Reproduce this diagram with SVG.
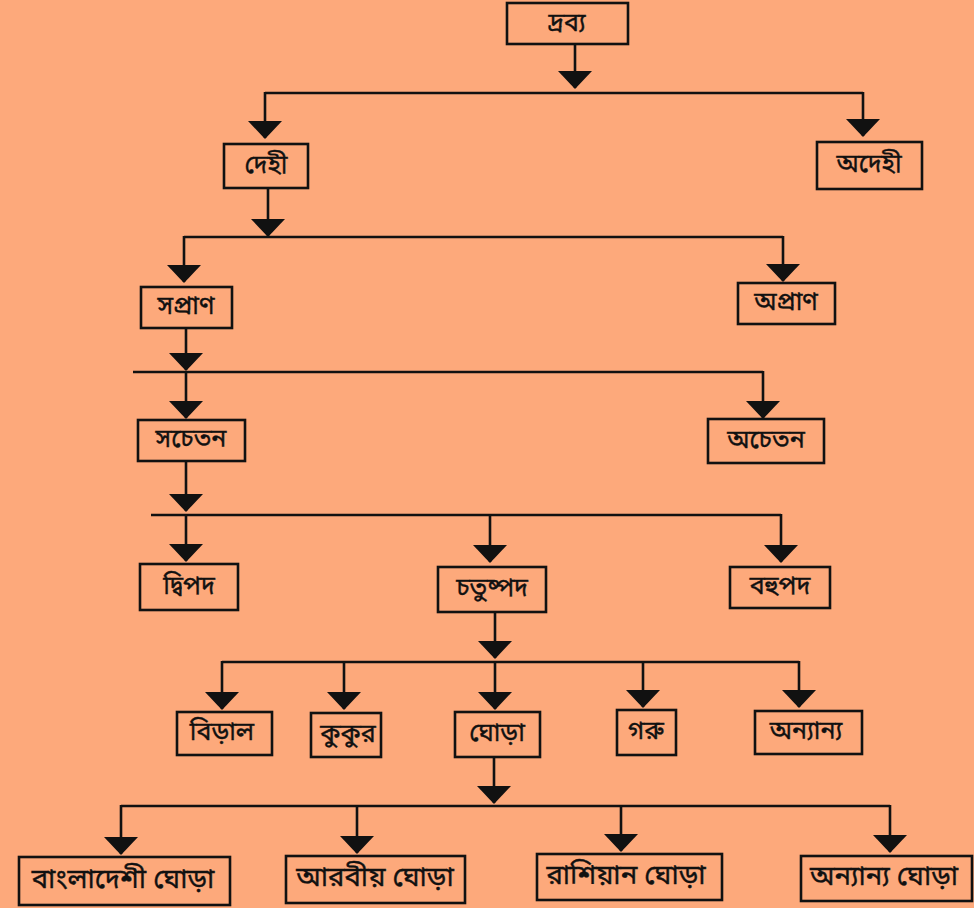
<svg xmlns="http://www.w3.org/2000/svg" width="974" height="908" viewBox="0 0 974 908">
<style>
.bx{fill:none;stroke:#111;stroke-width:2.6}
.ln{fill:none;stroke:#111;stroke-width:2.6}
.ar{fill:none;stroke:#111;stroke-width:2.6;marker-end:url(#ah)}
text{font-family:"Noto Sans Bengali","Lohit Bengali","Noto Sans","Noto Serif Bengali",sans-serif;font-size:25px;fill:#111;stroke:#111;stroke-width:0.4;text-anchor:middle;dominant-baseline:central}
text.big{font-size:27.5px}
</style>
<defs>
<marker id="ah" viewBox="0 0 18 34" refX="17" refY="17" markerWidth="18" markerHeight="34" markerUnits="userSpaceOnUse" orient="auto">
<path d="M0,0 L18,17 L0,34 z" fill="#111"/>
</marker>
</defs>
<rect width="974" height="908" fill="#FDA97B"/>
<g id="connectors">
<path class="ar" d="M575,44 V88"/>
<path class="ln" d="M265,93 H863"/>
<path class="ar" d="M265,92 V138"/>
<path class="ar" d="M863,92 V136"/>
<path class="ar" d="M268,188 V236"/>
<path class="ln" d="M184,237 H783"/>
<path class="ar" d="M184,236 V282"/>
<path class="ar" d="M783,236 V281"/>
<path class="ar" d="M186,328 V370"/>
<path class="ln" d="M133,372 H763"/>
<path class="ar" d="M186,371 V418"/>
<path class="ar" d="M763,371 V418"/>
<path class="ar" d="M186,461 V511"/>
<path class="ln" d="M151,515 H781"/>
<path class="ar" d="M186,514 V561"/>
<path class="ar" d="M490,514 V562"/>
<path class="ar" d="M781,514 V562"/>
<path class="ar" d="M495,612 V658"/>
<path class="ln" d="M222,662 H799"/>
<path class="ar" d="M222,661 V709"/>
<path class="ar" d="M344,661 V709"/>
<path class="ar" d="M495,661 V709"/>
<path class="ar" d="M643,661 V707"/>
<path class="ar" d="M799,661 V707"/>
<path class="ar" d="M494,757 V803"/>
<path class="ln" d="M121,806 H890"/>
<path class="ar" d="M121,805 V854"/>
<path class="ar" d="M357,805 V853"/>
<path class="ar" d="M621,805 V851"/>
<path class="ar" d="M890,805 V852"/>
</g>
<g id="n-drobyo"><rect class="bx" x="507" y="3" width="121" height="41"/><text x="567" y="24">দ্রব্য</text></g>
<g id="n-dehi"><rect class="bx" x="224" y="144" width="84" height="44"/><text x="266" y="166">দেহী</text></g>
<g id="n-adehi"><rect class="bx" x="817" y="142" width="105" height="47"/><text x="869" y="165">অদেহী</text></g>
<g id="n-saprana"><rect class="bx" x="141" y="287" width="91" height="41"/><text x="186" y="307">সপ্রাণ</text></g>
<g id="n-aprana"><rect class="bx" x="738" y="283" width="97" height="41"/><text x="786" y="303">অপ্রাণ</text></g>
<g id="n-sachetan"><rect class="bx" x="138" y="420" width="107" height="41"/><text x="191" y="440">সচেতন</text></g>
<g id="n-achetan"><rect class="bx" x="708" y="419" width="116" height="44"/><text x="766" y="441">অচেতন</text></g>
<g id="n-dwipad"><rect class="bx" x="140" y="564" width="98" height="46"/><text x="189" y="587">দ্বিপদ</text></g>
<g id="n-chatushpad"><rect class="bx" x="438" y="567" width="108" height="45"/><text x="492" y="589">চতুষ্পদ</text></g>
<g id="n-bahupad"><rect class="bx" x="730" y="567" width="100" height="41"/><text x="780" y="587">বহুপদ</text></g>
<g id="n-biral"><rect class="bx" x="177" y="712" width="95" height="43"/><text x="222" y="733">বিড়াল</text></g>
<g id="n-kukur"><rect class="bx" x="311" y="713" width="70" height="44"/><text x="348" y="735">কুকুর</text></g>
<g id="n-ghora"><rect class="bx" x="455" y="712" width="85" height="45"/><text x="497" y="734">ঘোড়া</text></g>
<g id="n-goru"><rect class="bx" x="617" y="710" width="59" height="45"/><text x="646" y="732">গরু</text></g>
<g id="n-onnanno"><rect class="bx" x="755" y="711" width="107" height="43"/><text x="806" y="732">অন্যান্য</text></g>
<g id="n-bangladeshi"><rect class="bx" x="19" y="857" width="211" height="48"/><text class="big" x="123" y="881">বাংলাদেশী ঘোড়া</text></g>
<g id="n-arabiyo"><rect class="bx" x="286" y="856" width="179" height="47"/><text class="big" x="375" y="879">আরবীয় ঘোড়া</text></g>
<g id="n-rashiyan"><rect class="bx" x="537" y="854" width="185" height="46"/><text class="big" x="626" y="877">রাশিয়ান ঘোড়া</text></g>
<g id="n-onnanno-ghora"><rect class="bx" x="801" y="856" width="171" height="45"/><text class="big" x="884" y="878">অন্যান্য ঘোড়া</text></g>
</svg>
